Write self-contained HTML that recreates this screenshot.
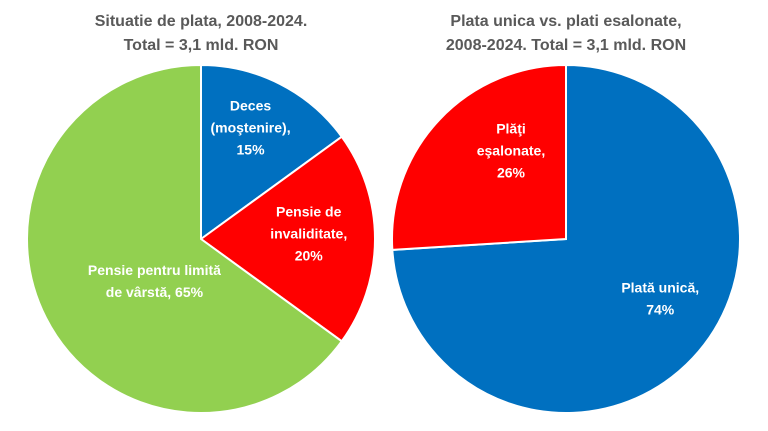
<!DOCTYPE html>
<html><head><meta charset="utf-8"><style>
html,body{margin:0;padding:0;background:#fff;}
svg{display:block;font-family:"Liberation Sans",sans-serif;}
.t{fill:#595959;font-weight:bold;font-size:16px;text-anchor:middle;}
.l{fill:#fff;font-weight:bold;font-size:14px;text-anchor:middle;}
</style></head><body>
<svg id="c" width="768" height="431" viewBox="0 0 768 431">
<text class="t" x="201" y="26">Situatie de plata, 2008-2024.</text>
<text class="t" x="201" y="50">Total = 3,1 mld. RON</text>
<text class="t" x="566" y="26">Plata unica vs. plati esalonate,</text>
<text class="t" x="566" y="50">2008-2024. Total = 3,1 mld. RON</text>
</svg>
<script>
const leftCategories=["Deces (moştenire)","Pensie de invaliditate","Pensie pentru limită de vârstă"];
const leftValues=[15,20,65];
const leftLabels=[["Deces","(moştenire),","15%"],["Pensie de","invaliditate,","20%"],["Pensie pentru limită","de vârstă, 65%"]];
const rightCategories=["Plată unică","Plăţi eşalonate"];
const rightValues=[74,26];
const rightLabels=[["Plată unică,","74%"],["Plăţi","eşalonate,","26%"]];
const leftColors=["#0070C0","#FF0000","#92D050"];
const rightColors=["#0070C0","#FF0000"];
const svg=document.getElementById('c');
const NS="http://www.w3.org/2000/svg";
function pie(cx,cy,r,vals,cols,labels,cats,prefix,lf,ao){
  const tot=vals.reduce((a,b)=>a+b,0);let a0=-Math.PI/2;
  vals.forEach((v,i)=>{
    const a1=a0+v/tot*2*Math.PI;
    const large=(a1-a0)>Math.PI?1:0;
    const p=document.createElementNS(NS,'path');
    p.setAttribute('d',`M${cx},${cy}L${cx+r*Math.cos(a0)},${cy+r*Math.sin(a0)}A${r},${r} 0 ${large} 1 ${cx+r*Math.cos(a1)},${cy+r*Math.sin(a1)}Z`);
    p.setAttribute('fill',cols[i]);p.setAttribute('stroke','#fff');p.setAttribute('stroke-width','2');
    
    
    svg.appendChild(p);
    const am=(a0+a1)/2+ao[i]*Math.PI/180,lr=r*lf[i];
    const lx=cx+lr*Math.cos(am),ly=cy+lr*Math.sin(am);
    const t=document.createElementNS(NS,'text');t.setAttribute('class','l');
    
    
    const n=labels[i].length;
    labels[i].forEach((s,k)=>{const ts=document.createElementNS(NS,'tspan');ts.setAttribute('x',lx);ts.setAttribute('y',ly+(k-(n-1)/2)*22+5);ts.textContent=s;t.appendChild(ts);});
    svg.appendChild(t);
    a0=a1;
  });
}
pie(201,239,174,leftValues,leftColors,leftLabels,leftCategories,'left',[0.7,0.62,0.36],[-3,-3,-15]);
pie(566,239,174,rightValues,rightColors,rightLabels,rightCategories,'right',[0.64,0.6],[-11,15]);
</script>
</body></html>
